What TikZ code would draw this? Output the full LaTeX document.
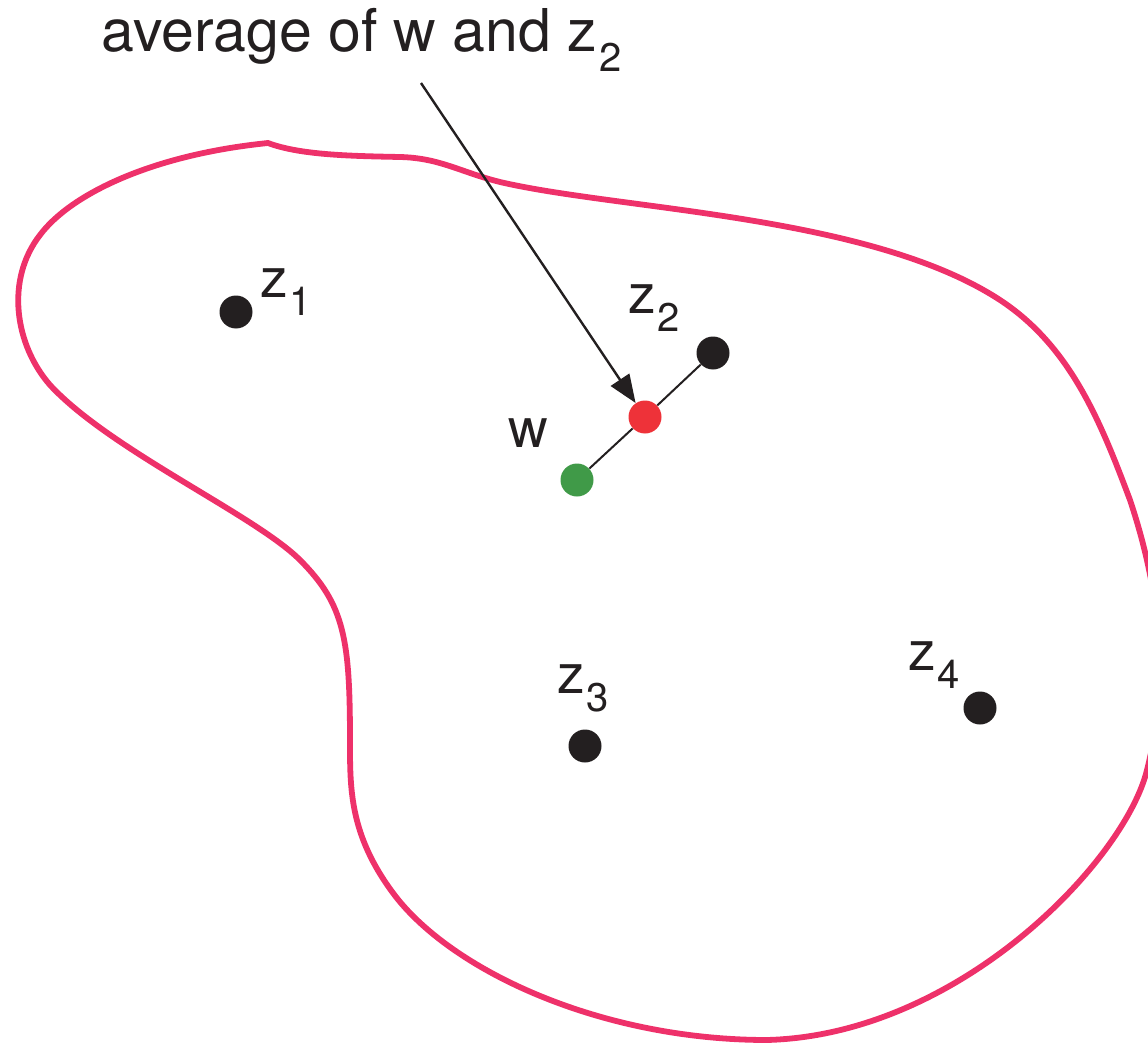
\documentclass[tikz,border=0pt]{standalone}
\usepackage{fontspec}
\setmainfont{TeX Gyre Heros}
\usetikzlibrary{arrows.meta}
\definecolor{rim}{RGB}{238,49,106}
\definecolor{dotred}{RGB}{238,50,57}
\definecolor{dotgreen}{RGB}{64,154,72}
\definecolor{ink}{RGB}{35,31,32}
\newcommand{\lowidx}[1]{\kern0.03em\raisebox{-0.33em}{\fontsize{20}{20}\selectfont #1}}
\tikzset{
  dot/.style={circle, fill=#1, inner sep=0pt, minimum size=16.5pt},
  lab/.style={anchor=base west, inner sep=0pt, text=ink, font=\fontsize{27.5}{33}\selectfont},
}
\begin{document}
\begin{tikzpicture}[x=0.5pt,y=-0.5pt]
    \useasboundingbox (0,0) rectangle (1148,1044);
    \clip (0,0) rectangle (1148,1044);

    % the region
    \draw[rim, line width=2.9pt, line join=round] (268,143)
      .. controls (300,155) and (350,156) .. (400,157)
      .. controls (440,158) and (460,172) .. (500,182)
      .. controls (620,210) and (870,215) .. (1000,300)
      .. controls (1070,346) and (1100,420) .. (1130,500)
      .. controls (1150,560) and (1175,660) .. (1147,770)
      .. controls (1125,860) and (960,1035) .. (767,1040)
      .. controls (600,1040) and (450,970) .. (393,893)
      .. controls (350,835) and (350,790) .. (350,743)
      .. controls (350,640) and (345,605) .. (300,560)
      .. controls (255,515) and (110,450) .. (50,385)
      .. controls (15,345) and (5,280) .. (40,235)
      .. controls (70,195) and (150,155) .. cycle;

    % points
    \node[dot=ink] (z1) at (236,312) {};
    \node[dot=ink] (z2) at (713,353) {};
    \node[dot=ink] (z3) at (585,746) {};
    \node[dot=ink] (z4) at (980,708) {};
    \node[dot=dotred] (mid) at (645,417) {};
    \node[dot=dotgreen] (w) at (577,480) {};

    \node[lab] (lz1) at (260,297) {z\lowidx{1}};
    \node[lab] (lz2) at (628,313) {z\lowidx{2}};
    \node[lab] (lz3) at (557,693) {z\lowidx{3}};
    \node[lab] (lz4) at (908,670) {z\lowidx{4}};
    \node[lab] (lw) at (508,447) {w};

    \draw[ink, line width=1pt] (w) -- (mid);
    \draw[ink, line width=1pt] (mid) -- (z2);

    % label and arrow
    \node[lab, font=\fontsize{29.5}{35}\selectfont] (title) at (101,52) {average of w and z\lowidx{2}};
    \coordinate (tail) at (421,83);
    \draw[ink, line width=1.2pt, -{Triangle[length=14pt,width=11pt]}] (tail) -- (mid);
\end{tikzpicture}
\end{document}
